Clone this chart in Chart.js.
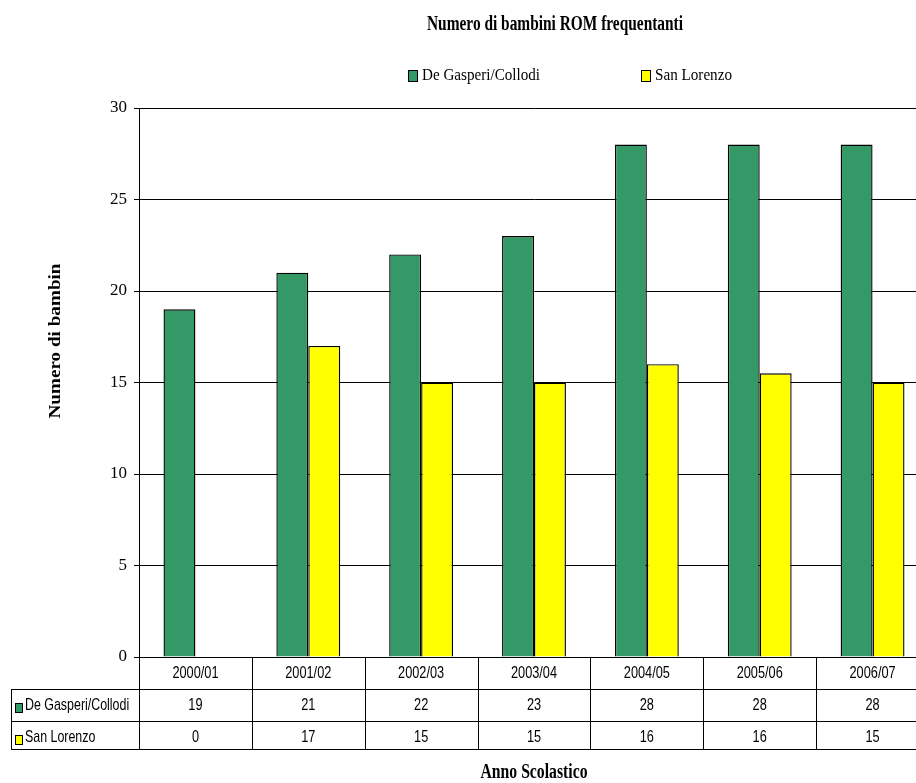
<!DOCTYPE html>
<html>
<head>
<meta charset="utf-8">
<script src="https://cdn.jsdelivr.net/npm/chart.js@4/dist/chart.umd.min.js"></script>
<style>
  html, body { margin: 0; padding: 0; background: #fff; overflow: hidden; }
  #wrap { width: 930px; height: 783px; }
</style>
</head>
<body>
<div id="wrap"><canvas id="romChart" width="930" height="783"></canvas></div>
<script>
const CATEGORIES = ['2000/01', '2001/02', '2002/03', '2003/04', '2004/05', '2005/06', '2006/07'];
const DE_GASPERI = [19, 21, 22, 23, 28, 28, 28];
const SAN_LORENZO = [0, 17, 15, 15, 16, 15.5, 15];
const SERIES_NAMES = ['De Gasperi/Collodi', 'San Lorenzo'];
const Y_TICKS = [0, 5, 10, 15, 20, 25, 30];

const GREEN = '#339966';
const YELLOW = '#FFFF00';
const SERIF = '"Liberation Serif", "Times New Roman", serif';
const SANS = '"Liberation Sans", Arial, sans-serif';

// draw text squeezed horizontally by sx (the original export uses narrow glyphs)
function drawText(ctx, s, x, y, font, align, sx) {
  ctx.save();
  ctx.font = font;
  ctx.fillStyle = '#000';
  ctx.textBaseline = 'middle';
  ctx.textAlign = align;
  ctx.translate(x, y);
  ctx.scale(sx, 1);
  ctx.fillText(s, 0, 0);
  ctx.restore();
}
function fitText(ctx, s, x, y, font, align, width) {
  ctx.save();
  ctx.font = font;
  const w = ctx.measureText(s).width;
  ctx.restore();
  drawText(ctx, s, x, y, font, align, width / w);
}

const decorPlugin = {
  id: 'decor',
  afterDraw(chart) {
    const ctx = chart.ctx;
    const x = chart.scales.x;
    const area = chart.chartArea;
    const colors = [GREEN, YELLOW];
    const rows = [DE_GASPERI, SAN_LORENZO];

    // title
    fitText(ctx, 'Numero di bambini ROM frequentanti', 555, 25, 'bold 20px ' + SERIF, 'center', 256);

    // legend
    const legendPos = [[408, 422, 118], [641, 655, 77]];
    legendPos.forEach((p, i) => {
      ctx.fillStyle = colors[i];
      ctx.fillRect(p[0], 70, 9, 11);
      ctx.strokeStyle = '#000';
      ctx.lineWidth = 1;
      ctx.strokeRect(p[0] + 0.5, 70.5, 9, 11);
      fitText(ctx, SERIES_NAMES[i], p[1], 76, '17px ' + SERIF, 'left', p[2]);
    });

    // y axis title
    ctx.save();
    ctx.translate(56, 341);
    ctx.rotate(-Math.PI / 2);
    fitText(ctx, 'Numero di bambin', 0, 0, 'bold 17px ' + SERIF, 'center', 155);
    ctx.restore();

    // x axis title
    fitText(ctx, 'Anno Scolastico', 534, 773, 'bold 20px ' + SERIF, 'center', 107);

    // data table
    const step = x.getPixelForValue(1) - x.getPixelForValue(0);
    const left = 11;
    const right = area.right;
    const yHead = area.bottom, y1 = area.bottom + 32, y2 = area.bottom + 64, y3 = area.bottom + 92;
    ctx.save();
    ctx.strokeStyle = '#000';
    ctx.lineWidth = 1;
    ctx.beginPath();
    [y1, y2, y3].forEach(yy => { ctx.moveTo(left, yy + 0.5); ctx.lineTo(right, yy + 0.5); });
    ctx.moveTo(left + 0.5, y1); ctx.lineTo(left + 0.5, y3 + 1);
    for (let i = 0; i <= CATEGORIES.length; i++) {
      const bx = Math.round(x.getPixelForValue(0) - step / 2 + i * step) + 0.5;
      ctx.moveTo(bx, yHead); ctx.lineTo(bx, y3 + 1);
    }
    ctx.stroke();
    ctx.restore();

    CATEGORIES.forEach((c, i) => {
      const cx = x.getPixelForValue(i);
      drawText(ctx, c, cx, yHead + 16, '17px ' + SANS, 'center', 0.75);
      rows.forEach((r, j) => {
        drawText(ctx, String(Math.round(r[i])), cx, (j ? y2 : y1) + 16, '17px ' + SANS, 'center', 0.75);
      });
    });
    rows.forEach((r, j) => {
      const ry = j ? y2 : y1;
      ctx.fillStyle = colors[j];
      ctx.fillRect(15, ry + 14, 7, 9);
      ctx.strokeStyle = '#000';
      ctx.strokeRect(15.5, ry + 14.5, 7, 9);
      drawText(ctx, SERIES_NAMES[j], 25, ry + 16, '17px ' + SANS, 'left', 0.73);
    });
  }
};

new Chart(document.getElementById('romChart'), {
  type: 'bar',
  data: {
    labels: CATEGORIES,
    datasets: [
      { label: SERIES_NAMES[0], data: DE_GASPERI, backgroundColor: GREEN, borderColor: '#000', borderWidth: 1.4 },
      { label: SERIES_NAMES[1], data: SAN_LORENZO, backgroundColor: YELLOW, borderColor: '#000', borderWidth: 1.4 }
    ]
  },
  options: {
    responsive: false,
    animation: false,
    devicePixelRatio: 1,
    layout: { padding: { left: 0, top: 108, right: 1, bottom: 126 } },
    datasets: { bar: { categoryPercentage: 0.566, barPercentage: 1 } },
    plugins: { legend: { display: false }, title: { display: false }, tooltip: { enabled: false } },
    scales: {
      x: { display: false, grid: { display: false } },
      y: {
        min: 0, max: 30,
        afterFit(scale) { scale.width = 139; },
        afterBuildTicks(scale) { scale.ticks = Y_TICKS.map(v => ({ value: v })); },
        ticks: { color: '#000', padding: 7, font: { family: SERIF, size: 17 } },
        grid: { color: '#000', lineWidth: 1, tickLength: 5, drawTicks: true },
        border: { display: true, color: '#000', width: 1 }
      }
    }
  },
  plugins: [decorPlugin]
});
</script>
</body>
</html>
